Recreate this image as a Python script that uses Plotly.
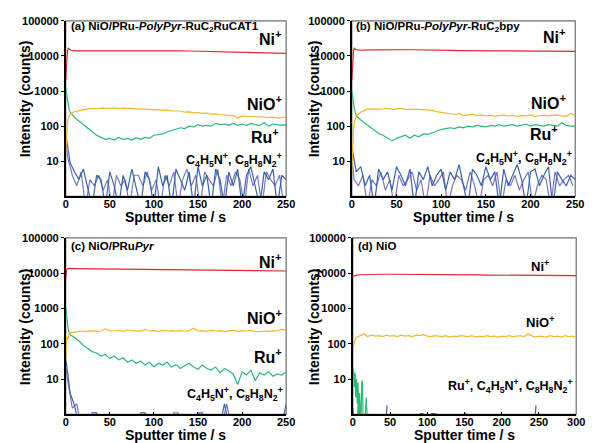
import plotly.graph_objects as go

# time grids (s)
t_main = [0, 1, 2, 3, 4] + list(range(5, 251, 5))
t_ni = [0, 1, 2, 3, 4, 6] + list(range(10, 251, 10))
t_nz1 = list(range(0, 251, 5))
t_nz2 = [0] + [x + 2.5 for x in range(0, 250, 5)]
t_main_d = [0, 1, 2, 3, 4] + list(range(5, 301, 5))
t_ni_d = [0, 2, 5] + list(range(10, 301, 10))
t_ru_d = [0, 1, 2, 3, 4, 5, 6, 7, 8, 9, 10, 11, 12, 13, 14, 16, 18, 20, 22]
t_nz_d = [0, 2, 4, 6, 8, 10, 12, 40, 44, 46, 48, 90, 95, 100, 105, 110, 150, 152, 240, 244, 246, 248]

# (a) NiO/PRu-PolyPyr-RuC2RuCAT1
ni_a = [2000, 9000, 14000, 16500, 15500, 14500, 14000, 14000, 14200, 14300, 14400, 14500,
        14500, 14500, 14400, 14300, 14200, 14100, 14000, 13800, 13600, 13400, 13200, 13000,
        12800, 12600, 12400, 12200, 12000, 11900, 11800]
nio_a = [15, 60, 120, 170, 200, 220, 260, 280, 300, 310, 320, 310, 325, 315, 320, 330, 315, 325,
         320, 330, 310, 320, 305, 300, 290, 295, 280, 285, 270, 265, 270, 250, 255, 240, 245,
         230, 235, 220, 225, 215, 210, 205, 200, 170, 195, 190, 185, 190, 180, 185, 175, 180,
         170, 175, 185]
ru_a = [1200, 800, 500, 350, 290, 250, 180, 140, 110, 85, 70, 55, 48, 42, 45, 40, 48, 42, 45, 40,
        47, 42, 48, 45, 55, 58, 60, 68, 75, 80, 90, 85, 100, 95, 110, 100, 105, 100, 120, 110,
        115, 105, 120, 105, 115, 105, 120, 110, 105, 125, 100, 115, 110, 105, 110]
c4_a = [60, 9, 5, 3, 6, 2, 0.5, 4, 3, 0.5, 5, 2, 0.5, 4, 1.5, 6, 2, 0.5, 5, 3, 0.5, 7, 2, 4, 0.5,
        6, 3, 1.5, 5, 0.5, 7, 2, 4, 0.5, 6, 3, 0.5, 5, 2, 6, 0.5, 4, 7, 2, 0.5, 5, 3, 6, 0.5, 4, 3]
c8_a = [30, 12, 4, 2, 5, 0.5, 3, 2, 4, 1.5, 3, 0.5, 4, 2, 3, 0.5, 4, 4, 2, 5, 1.5, 3, 0.5, 4, 2,
        5, 0.5, 3, 6, 2, 4, 0.5, 5, 3, 2, 6, 0.5, 4, 2, 5, 3, 0.5, 6, 2, 4, 0.5, 5, 3, 2, 4, 0.5]

# (b) NiO/PRu-PolyPyr-RuC2bpy
ni_b = [2000, 10000, 15000, 16500, 15500, 14800, 14500, 14800, 15000, 15000, 15000, 15000,
        15000, 15000, 14800, 14500, 14300, 14200, 14000, 14000, 14000, 13900, 13900, 13800,
        13800, 13700, 13700, 13600, 13600, 13500, 13500]
nio_b = [5, 30, 80, 130, 170, 200, 250, 290, 310, 300, 305, 310, 320, 300, 310, 320, 300, 305,
         310, 300, 295, 290, 280, 260, 250, 240, 225, 215, 230, 200, 210, 220, 200, 210, 195,
         205, 190, 200, 210, 195, 205, 190, 200, 195, 210, 190, 200, 205, 195, 200, 210, 195,
         190, 230, 200]
ru_b = [1000, 600, 400, 300, 240, 200, 150, 120, 95, 75, 62, 55, 45, 38, 45, 50, 55, 45, 55, 50,
        60, 58, 65, 72, 80, 85, 90, 85, 95, 90, 100, 95, 105, 100, 95, 105, 100, 110, 100, 105,
        110, 100, 105, 115, 100, 110, 105, 100, 110, 105, 100, 125, 105, 100, 100]
c4_b = [25, 5, 7, 2, 4, 0.5, 6, 3, 5, 1.5, 7, 4, 2, 6, 0.5, 5, 3, 7, 2, 4, 6, 1.5, 5, 3, 8, 2,
        0.5, 6, 4, 2, 7, 3, 5, 0.5, 6, 2, 4, 8, 3, 0.5, 5, 6, 2, 4, 7, 0.5, 5, 3, 2, 4, 3]
c8_b = [15, 3, 2, 4, 0.5, 3, 2, 5, 1.5, 3, 0.5, 4, 2, 3, 5, 1.5, 3, 0.5, 4, 2, 3, 5, 0.5, 2, 4,
        3, 1.5, 5, 2, 0.5, 3, 4, 2, 5, 0.5, 3, 2, 4, 1.5, 3, 5, 0.5, 2, 4, 3, 0.5, 5, 2, 3, 4, 2]

# (c) NiO/PRuPyr
ni_c = [7000, 12500, 13500, 13600, 13600, 13600, 13500, 13400, 13300, 13200, 13100, 13000,
        12900, 12800, 12700, 12600, 12500, 12400, 12300, 12200, 12100, 12000, 11900, 11900,
        11800, 11800, 11700, 11600, 11600, 11500, 11500]
nio_c = [30, 160, 130, 170, 190, 200, 215, 225, 230, 220, 235, 225, 230, 265, 235, 230, 240, 225,
         245, 230, 235, 225, 255, 230, 235, 220, 240, 230, 235, 225, 240, 230, 235, 275, 230,
         235, 225, 240, 230, 235, 220, 230, 240, 225, 235, 230, 240, 225, 220, 230, 225, 235,
         230, 260, 230]
ru_c = [1000, 600, 350, 250, 200, 180, 150, 120, 90, 75, 60, 55, 45, 50, 38, 45, 35, 40, 30, 35,
        28, 32, 25, 30, 22, 28, 25, 30, 22, 26, 20, 24, 28, 22, 19, 25, 20, 18, 22, 15, 20, 17,
        14, 7, 16, 13, 18, 9, 15, 13, 16, 12, 14, 13, 16]
c4_c = [40, 4, 1.8, 0.5, 0.5, 0.5, 1.1, 1.1, 0.5, 0.5, 0.5, 0.5, 0.5, 0.5, 0.5, 0.5, 0.5, 1.1,
        1.1, 0.5, 0.5, 0.5, 0.5, 0.5, 0.5, 0.5, 0.5, 0.5, 0.5, 0.5, 1.1, 1.1, 0.5, 0.5, 0.5, 0.5,
        2, 0.5, 0.5, 0.5, 0.5, 0.5, 0.5, 0.5, 0.5, 0.5, 0.5, 0.5, 0.5, 0.5, 2]
c8_c = [20, 8, 1.5, 2, 0.5, 0.5, 0.5, 0.5, 0.5, 0.5, 0.5, 0.5, 0.5, 0.5, 0.5, 0.5, 0.5, 0.5, 0.5,
        0.5, 0.5, 0.5, 0.5, 0.5, 0.5, 1.1, 1.1, 0.5, 0.5, 0.5, 0.5, 0.5, 0.5, 0.5, 0.5, 0.5, 0.5,
        2, 0.5, 0.5, 0.5, 0.5, 0.5, 0.5, 0.5, 0.5, 0.5, 0.5, 0.5, 0.5, 0.5]

# (d) NiO
ni_d = [8000, 8500, 8800, 9000, 9200, 9300, 9300, 9300, 9300, 9200, 9200, 9200, 9100, 9100,
        9000, 9000, 9000, 8900, 8900, 8900, 8800, 8800, 8800, 8700, 8700, 8700, 8600, 8600,
        8600, 8500, 8500, 8500, 8500]
nio_d = [70, 90, 110, 130, 140, 150, 170, 190, 160, 175, 165, 170, 160, 175, 165, 170, 160, 175,
         165, 170, 160, 175, 170, 180, 165, 160, 170, 165, 160, 170, 155, 165, 160, 170, 165,
         160, 170, 155, 165, 160, 170, 160, 165, 155, 165, 160, 170, 160, 165, 170, 160, 190,
         170, 155, 165, 160, 155, 170, 160, 165, 155, 170, 160, 165, 155]
ru_d = [20, 18, 6, 15, 3, 10, 2, 8, 0.5, 4, 1.5, 0.5, 8, 9, 0.5, 0.5, 3, 0.5, 0.5]
nz_d = [1.5, 0.5, 0.5, 0.5, 3, 0.5, 0.5, None, 0.5, 1.8, None, 1.05, 1.05, None, 1.05, 1.05,
        0.5, 1.1, None, 0.5, 1.8, None]

RED = 'rgb(228,38,45)'
YEL = 'rgb(242,184,48)'
GRN = 'rgb(44,184,118)'
BLU = 'rgb(58,98,168)'
PUR = 'rgb(122,120,188)'
FONT = 'Liberation Sans'

fig = go.Figure()

def add_line(x, y, color, n):
    fig.add_trace(go.Scatter(x=x, y=y, mode='lines', line=dict(color=color, width=1.2),
                             xaxis='x' + n, yaxis='y' + n, showlegend=False,
                             connectgaps=False))

panels = {
    '': [(t_nz2, c8_a, PUR), (t_nz1, c4_a, BLU), (t_main, ru_a, GRN), (t_main, nio_a, YEL), (t_ni, ni_a, RED)],
    '2': [(t_nz2, c8_b, PUR), (t_nz1, c4_b, BLU), (t_main, ru_b, GRN), (t_main, nio_b, YEL), (t_ni, ni_b, RED)],
    '3': [(t_nz2, c8_c, PUR), (t_nz1, c4_c, BLU), (t_main, ru_c, GRN), (t_main, nio_c, YEL), (t_ni, ni_c, RED)],
    '4': [(t_nz_d, nz_d, BLU), (t_ru_d, ru_d, GRN), (t_main_d, nio_d, YEL), (t_ni_d, ni_d, RED)],
}
for n, series in panels.items():
    for x, y, c in series:
        add_line(x, y, c, n)

W, H = 595, 443
# plot boxes in pixels: (left, right, top, bottom, xmax)
boxes = {'': (64, 289, 15, 193, 250), '2': (356, 584, 15, 193, 250),
         '3': (64, 289, 235, 414, 250), '4': (357, 585, 235, 414, 300)}

layout = dict(width=W, height=H, margin=dict(l=0, r=0, t=0, b=0),
              plot_bgcolor='white', paper_bgcolor='white', showlegend=False)
shapes = []
for n, (l, r, t, b, xmax) in boxes.items():
    layout['xaxis' + n] = dict(domain=[l / W, r / W], range=[0, xmax], anchor='y' + n,
                               tickvals=list(range(0, xmax + 1, 50)), ticks='inside', ticklen=3,
                               showline=True, linecolor='black', linewidth=1.5, showgrid=False,
                               zeroline=False, tickcolor='black', ticklabelstandoff=-3,
                               tickfont=dict(family=FONT, size=11, color='black', weight='bold'))
    layout['yaxis' + n] = dict(domain=[1 - b / H, 1 - t / H], type='log', range=[0, 5],
                               anchor='x' + n, tickvals=[10, 100, 1000, 10000, 100000],
                               ticktext=['10', '100', '1000', '10000', '100000'],
                               ticks='outside', ticklen=3, showline=True, linecolor='black',
                               linewidth=1.5, showgrid=False, zeroline=False, tickcolor='black',
                               tickfont=dict(family=FONT, size=11, color='black', weight='bold'))
    xr = 'x' + n + ' domain' if n else 'x domain'
    yr = 'y' + n + ' domain' if n else 'y domain'
    shapes.append(dict(type='rect', xref=xr, yref=yr, x0=0, x1=1, y0=0, y1=1,
                       line=dict(color='rgb(110,110,110)', width=1.2), layer='below'))
layout['shapes'] = shapes
fig.update_layout(**layout)

def note(text, n, x, y, size, xanchor='right'):
    xr = 'x' + n + ' domain' if n else 'x domain'
    yr = 'y' + n + ' domain' if n else 'y domain'
    fig.add_annotation(text=text, xref=xr, yref=yr, x=x, y=y, xanchor=xanchor, yanchor='middle',
                       showarrow=False, font=dict(family=FONT, size=size, color='black', weight='bold'))

c_lbl = 'C<sub>4</sub>H<sub>5</sub>N<sup>+</sup>, C<sub>8</sub>H<sub>8</sub>N<sub>2</sub><sup>+</sup>'

note('(a) NiO/PRu-<i>PolyPyr</i>-RuC<sub>2</sub>RuCAT1', '', 0.013, 0.962, 11.5, 'left')
note('Ni<sup>+</sup>', '', 0.991, 0.9, 16)
note('NiO<sup>+</sup>', '', 0.991, 0.53, 16)
note('Ru<sup>+</sup>', '', 0.978, 0.345, 16)
note(c_lbl, '', 0.991, 0.21, 12.5)

note('(b) NiO/PRu-<i>PolyPyr</i>-RuC<sub>2</sub>bpy', '2', 0.009, 0.962, 11.5, 'left')
note('Ni<sup>+</sup>', '2', 0.969, 0.915, 16)
note('NiO<sup>+</sup>', '2', 0.969, 0.535, 16)
note('Ru<sup>+</sup>', '2', 0.93, 0.36, 16)
note(c_lbl, '2', 0.995, 0.22, 12.5)

note('(c) NiO/PRu<i>Pyr</i>', '3', 0.013, 0.955, 11.5, 'left')
note('Ni<sup>+</sup>', '3', 0.991, 0.87, 16)
note('NiO<sup>+</sup>', '3', 0.991, 0.55, 16)
note('Ru<sup>+</sup>', '3', 0.991, 0.33, 16)
note(c_lbl, '3', 0.995, 0.115, 12.5)

note('(d) NiO', '4', 0.013, 0.955, 11.5, 'left')
note('Ni<sup>+</sup>', '4', 0.838, 0.84, 13, 'center')
note('NiO<sup>+</sup>', '4', 0.838, 0.525, 13, 'center')
note('Ru<sup>+</sup>, ' + c_lbl, '4', 0.996, 0.16, 12.5)

# axis titles
for x, y in [(22, 94), (317, 94), (22, 325), (317, 325)]:
    fig.add_annotation(text='Intensity (counts)', xref='paper', yref='paper', x=x / W, y=1 - y / H,
                       textangle=-90, showarrow=False, xanchor='center', yanchor='middle',
                       font=dict(family=FONT, size=14, color='black', weight='bold'))
for x, y in [(176, 214), (470, 214), (176, 435), (471, 435)]:
    fig.add_annotation(text='Sputter time / s', xref='paper', yref='paper', x=x / W, y=1 - y / H,
                       showarrow=False, xanchor='center', yanchor='middle',
                       font=dict(family=FONT, size=14, color='black', weight='bold'))

fig.write_html("out.html", config={'displayModeBar': False},
               post_script="document.body.style.margin='0';")
